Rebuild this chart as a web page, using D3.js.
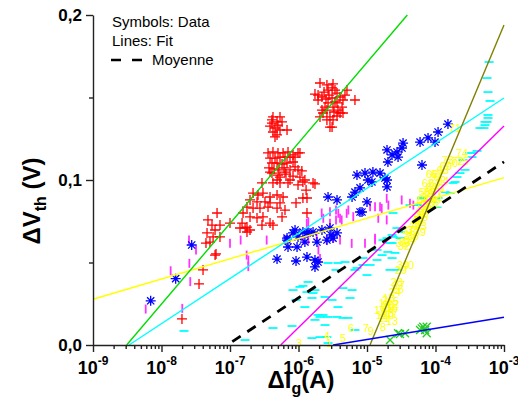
<!DOCTYPE html>
<html><head><meta charset="utf-8">
<script src="https://cdn.jsdelivr.net/npm/d3@7"></script>
<style>body{margin:0;background:#fff}svg{display:block}</style>
</head><body>
<svg id="c" width="518" height="403"></svg>
<script>
// ---------------- DATA ----------------
const xMajorTicks = [1e-9, 1e-8, 1e-7, 1e-6, 1e-5, 1e-4, 1e-3];
const xTickExponents = ["-9", "-8", "-7", "-6", "-5", "-4", "-3"];
const yMajorTicks = [0, 0.1, 0.2];
const yTickLabels = ["0,0", "0,1", "0,2"];
const yMinorTicks = [0.05, 0.15];
const legendLines = ["Symbols: Data", "Lines: Fit", "Moyenne"];

// red "+" series  [ΔIg (A), ΔVth (V)]
const redPts = [
[2.06e-6,0.1588],[2.60e-6,0.1576],[3.19e-6,0.1582],[1.93e-6,0.1515],[1.74e-6,0.1521],[2.20e-6,0.1503],
[2.70e-6,0.1545],[3.09e-6,0.1558],[3.65e-6,0.1527],[4.04e-6,0.1503],[4.46e-6,0.1485],[3.65e-6,0.1467],
[3.19e-6,0.1442],[2.60e-6,0.1424],[2.28e-6,0.1406],[2.88e-6,0.1382],[2.60e-6,0.1364],[3.19e-6,0.1364],
[4.04e-6,0.1406],[4.32e-6,0.1442],[3.77e-6,0.1424],[3.41e-6,0.1473],[3.09e-6,0.1497],[2.70e-6,0.1467],
[2.44e-6,0.1442],[2.20e-6,0.1424],[2.06e-6,0.1382],[3.09e-6,0.1321],[4.46e-6,0.1406],[5.10e-6,0.1545],
[4.77e-6,0.1515],[6.67e-6,0.1485],[2.88e-6,0.1321],[1.93e-6,0.1485],[2.36e-6,0.1533],[3.65e-6,0.1388],
[2.79e-6,0.1515],[3.41e-6,0.1545],[2.52e-6,0.1491],[3.30e-6,0.1412],
[4.24e-7,0.1382],[5.37e-7,0.1382],[4.86e-7,0.1352],[4.10e-7,0.1345],[5.02e-7,0.1333],[4.54e-7,0.1315],
[5.37e-7,0.1303],[4.24e-7,0.1291],[4.86e-7,0.1273],[6.80e-7,0.1303],[4.10e-7,0.1364],[5.75e-7,0.1352],
[4.54e-7,0.1261],[3.84e-7,0.1327],
[3.59e-7,0.1164],[4.24e-7,0.1170],[5.02e-7,0.1164],[5.95e-7,0.1164],[7.03e-7,0.1170],[9.84e-7,0.1164],
[8.90e-7,0.1139],[3.84e-7,0.1133],[4.54e-7,0.1133],[5.37e-7,0.1139],[6.35e-7,0.1139],[7.52e-7,0.1139],
[4.10e-7,0.1103],[4.86e-7,0.1103],[5.75e-7,0.1097],[6.80e-7,0.1103],[8.32e-7,0.1109],[3.71e-7,0.1073],
[4.39e-7,0.1067],[5.19e-7,0.1061],[6.15e-7,0.1073],[7.52e-7,0.1061],[8.90e-7,0.1079],[4.10e-7,0.1042],
[5.02e-7,0.1030],[6.57e-7,0.1036],[8.32e-7,0.1024],[9.84e-7,0.1061],[4.86e-7,0.1000],[7.52e-7,0.1000],
[5.37e-7,0.1018],
[3.84e-7,0.1048],[6.35e-7,0.1048],[2.93e-7,0.0982],[4.24e-7,0.0982],[5.37e-7,0.0982],[7.03e-7,0.0982],
[1.05e-6,0.1018],[1.16e-6,0.0988],[9.84e-7,0.0970],[1.74e-6,0.0976],[1.29e-6,0.0939],[2.17e-7,0.0921],
[2.56e-7,0.0909],[3.03e-7,0.0921],[3.84e-7,0.0897],[4.86e-7,0.0909],[5.95e-7,0.0897],[1.96e-7,0.0879],
[2.48e-7,0.0867],[3.24e-7,0.0867],[3.84e-7,0.0861],[5.37e-7,0.0861],[9.20e-7,0.0861],[1.16e-6,0.0891],
[1.77e-7,0.0836],[2.17e-7,0.0830],[2.74e-7,0.0830],[3.59e-7,0.0836],[4.86e-7,0.0830],[6.35e-7,0.0818],
[1.33e-6,0.0800],[1.55e-7,0.0800],[1.96e-7,0.0776],[2.48e-7,0.0770],[3.03e-7,0.0776],[3.84e-7,0.0739],
[2.93e-7,0.0727],[1.50e-7,0.0739],[1.66e-7,0.0709],[1.96e-7,0.0697],[1.40e-7,0.0709],[1.77e-7,0.0685],
[4.77e-8,0.0758],[6.47e-8,0.0800],[5.46e-8,0.0727],[7.14e-8,0.0727],[6.05e-8,0.0697],[4.62e-8,0.0679],
[5.66e-8,0.0655],[1.00e-7,0.0739],[5.10e-8,0.0624],[6.05e-8,0.0545],[4.04e-8,0.0455],[3.53e-8,0.0370],
[1.99e-8,0.0158],[1.77e-7,0.0715],[7.14e-8,0.0655],[4.46e-8,0.0618],[6.25e-8,0.0552],
[1.24e-6,0.1000],[1.63e-6,0.0982],[1.33e-6,0.0891],[4.24e-7,0.0727],[5.75e-7,0.0776],[1.05e-6,0.1164],
[8.32e-7,0.1152],[1.12e-6,0.1055]
];

// blue asterisk series
const bluePts = [
[6.95e-9,0.0268],[1.61e-8,0.0402],[2.76e-8,0.0606],
[8.90e-7,0.0697],[9.84e-7,0.0655],[1.33e-6,0.0679],[1.63e-6,0.0685],[2.20e-6,0.0697],[2.88e-6,0.0709],
[3.65e-6,0.0679],[6.80e-7,0.0636],[7.03e-7,0.0594],[9.52e-7,0.0594],[1.24e-6,0.0624],[1.86e-6,0.0624],
[2.60e-6,0.0636],[3.19e-6,0.0648],[4.86e-7,0.0521],[9.20e-7,0.0509],[1.33e-6,0.0533],[1.74e-6,0.0515],
[1.74e-6,0.0473],[1.93e-6,0.0503],[8.32e-7,0.0679],[1.38e-6,0.0685],[2.98e-6,0.0667],[1.16e-6,0.0685],
[6.80e-7,0.0648],[2.70e-6,0.0897],[3.65e-6,0.0879],
[7.14e-6,0.1030],[9.35e-6,0.1042],[1.22e-5,0.1048],[1.55e-5,0.1042],[1.83e-5,0.1012],[1.96e-5,0.0958],
[1.03e-5,0.1000],[7.91e-6,0.0952],[6.67e-6,0.0927],[6.05e-6,0.0897],[1.00e-5,0.0867],[7.91e-6,0.0806],
[1.96e-5,0.1182],[2.32e-5,0.1152],[2.74e-5,0.1170],[3.24e-5,0.1194],[3.36e-5,0.1224],[2.02e-5,0.1109],
[2.84e-5,0.1139],[5.95e-5,0.1230],[7.78e-5,0.1255],[9.84e-5,0.1230],[1.09e-4,0.1291],[1.52e-4,0.1339],
[6.35e-5,0.1091],[1.18e-5,0.0988],[1.96e-5,0.1000],[8.45e-6,0.0806]
];

// magenta "|" series
const magentaPts = [
[5.88e-9,0.0218],[1.36e-8,0.0450],[2.01e-8,0.0222],[2.52e-8,0.0636],[2.55e-8,0.0495],[2.63e-8,0.0384],
[3.19e-8,0.0576],[1.00e-7,0.0616],[1.43e-7,0.0636],[1.75e-7,0.0545],[1.85e-7,0.0515],[1.85e-7,0.0475],
[3.43e-7,0.0636],[6.35e-7,0.0636],[1.32e-6,0.0738],[1.84e-6,0.0656],[1.95e-6,0.0576],[2.06e-6,0.0525],
[2.58e-6,0.0636],[3.22e-6,0.0656],[3.53e-6,0.0758],[2.88e-6,0.0808],[3.53e-6,0.0818],[2.30e-6,0.0768],
[4.04e-6,0.0768],[5.05e-6,0.0798],[5.98e-6,0.0616],[2.18e-6,0.0800],[3.22e-6,0.0647],[4.04e-6,0.0636],
[9.35e-6,0.0616],[1.31e-5,0.0636],[1.39e-6,0.0636],[1.17e-6,0.0636],[1.94e-5,0.0889],[3.21e-5,0.0879],
[4.24e-5,0.0859],[1.55e-5,0.0838],[5.34e-6,0.0818],[1.11e-5,0.0838],[3.81e-6,0.0798],[1.39e-6,0.0747],
[2.88e-6,0.0738],[4.27e-6,0.0758],[6.30e-6,0.0778],[1.94e-5,0.0758],[1.31e-5,0.0838],[1.64e-5,0.0828],
[4.75e-5,0.0848],[2.05e-5,0.0848],[1.31e-5,0.0647],[1.46e-5,0.0768]
];

// cyan "−" series
const cyanPts = [
[6.05e-4,0.1715],[5.66e-4,0.1618],[5.84e-4,0.1533],[6.25e-4,0.1479],[5.84e-4,0.1394],[5.84e-4,0.1376],
[5.66e-4,0.1352],[5.28e-4,0.1333],[5.10e-4,0.1315],[4.46e-4,0.1315],[4.04e-4,0.1176],[3.41e-4,0.1164],
[3.41e-4,0.1139],[5.28e-4,0.1352],[3.19e-4,0.1164],[2.52e-4,0.1121],[2.28e-4,0.1042],[2.06e-4,0.1018],
[1.80e-4,0.0982],[1.38e-4,0.0927],[1.09e-4,0.0891],[9.20e-5,0.0867],[4.24e-5,0.0848],[2.40e-5,0.0800],
[2.74e-5,0.0709],[3.03e-5,0.0685],[2.32e-5,0.0667],[1.96e-5,0.0648],[2.32e-5,0.0618],[5.37e-5,0.0848],
[6.35e-5,0.0891],[1.05e-4,0.0836],[2.70e-4,0.1061],[1.93e-4,0.0988],[1.63e-4,0.0921],[2.40e-5,0.0655],
[3.03e-5,0.0648],[2.17e-5,0.0618],[2.02e-5,0.0564],[2.56e-5,0.0558],[2.32e-5,0.0527],[2.17e-5,0.0455],
[2.74e-5,0.0455],[1.71e-5,0.0636],
[2.70e-6,0.0497],[3.77e-6,0.0497],[7.14e-6,0.0467],[8.75e-6,0.0485],[1.00e-5,0.0424],[1.40e-5,0.0515],
[1.66e-5,0.0545],[1.40e-5,0.0576],[1.38e-6,0.0382],[1.05e-6,0.0352],[1.33e-6,0.0321],[1.74e-6,0.0333],
[2.44e-6,0.0291],[4.46e-6,0.0345],[5.66e-6,0.0285],[1.57e-6,0.0285],[8.32e-7,0.0333],[2.06e-6,0.0170],
[2.70e-6,0.0170],[1.74e-6,0.0152],[2.44e-6,0.0121],[3.65e-6,0.0170],[4.46e-6,0.0164],[4.24e-7,0.0103],
[1.57e-6,0.0042],[2.60e-6,0.0048],[2.70e-6,0.0012],[8.75e-6,0.0527],[1.16e-6,0.0358],[1.63e-6,0.0315],
[1.93e-6,0.0182],[2.28e-6,0.0182],[8.04e-7,0.0115],[2.06e-6,0.0048],[1.66e-7,0.0030],[2.13e-8,0.0085],
[3.53e-6,0.0455],[4.77e-6,0.0503],[6.67e-6,0.0455],[1.11e-5,0.0485],[3.09e-6,0.0273],[3.77e-6,0.0230],
[1.24e-6,0.0230],[9.20e-7,0.0273],[5.28e-6,0.0164],[6.67e-6,0.0091],[6.05e-6,0.0333]
];

// yellow series, drawn as point numbers [label, ΔIg, ΔVth]
const yellowPts = [
["1",2.79e-6,0.0012],["3",1.02e-6,0.0012],["4",2.60e-6,0.0055],["5",4.46e-6,0.0042],["6",5.84e-6,0.0103],
["7",9.68e-6,0.0103],["9",1.14e-5,0.0085],["8",1.71e-5,0.0109],["13",2.32e-5,0.0145],["12",1.66e-5,0.0182],
["10",2.02e-5,0.0182],["17",2.32e-5,0.0194],["11",1.77e-5,0.0164],["19",1.55e-5,0.0212],["21",1.96e-5,0.0224],
["16",2.32e-5,0.0224],["20",2.02e-5,0.0242],["22",2.40e-5,0.0248],["14",1.83e-5,0.0255],["15",2.40e-5,0.0267],
["2",1.83e-5,0.0273],["18",2.09e-5,0.0285],["23",2.02e-5,0.0194],["24",2.56e-5,0.0321],["26",2.84e-5,0.0339],
["28",2.74e-5,0.0382],["27",2.93e-5,0.0364],["30",3.36e-5,0.0485],["29",3.14e-5,0.0455],["40",3.97e-5,0.0485],
["31",3.24e-5,0.0618],["33",3.59e-5,0.0624],["32",3.47e-5,0.0600],["34",4.24e-5,0.0636],["35",4.24e-5,0.0667],
["36",4.70e-5,0.0661],["37",3.97e-5,0.0697],["38",4.70e-5,0.0697],["39",5.95e-5,0.0685],["41",5.02e-5,0.0727],
["42",5.55e-5,0.0745],["43",6.15e-5,0.0721],["44",5.55e-5,0.0758],["45",6.35e-5,0.0776],["46",5.95e-5,0.0788],
["47",7.03e-5,0.0800],["48",6.35e-5,0.0818],["49",7.27e-5,0.0830],["50",6.57e-5,0.0861],["52",9.84e-5,0.0861],
["53",8.32e-5,0.0848],["54",8.90e-5,0.0879],["55",7.52e-5,0.0897],["51",1.05e-4,0.0897],["56",6.57e-5,0.0879],
["57",1.05e-4,0.0927],["58",7.03e-5,0.0927],["59",8.32e-5,0.0927],["60",8.90e-5,0.0958],["61",1.16e-4,0.0952],
["62",7.78e-5,0.0982],["63",9.84e-5,0.0982],["64",1.29e-4,0.0994],["65",1.16e-4,0.1018],["66",8.90e-5,0.1036],
["67",1.05e-4,0.1036],["68",1.29e-4,0.1061],["69",1.42e-4,0.1085],["70",1.74e-4,0.1103],["72",2.13e-4,0.1115],
["75",2.52e-4,0.1115],["74",2.44e-4,0.1164],["73",1.52e-4,0.1121],["71",1.93e-4,0.1315]
];

// green "x" series
const greenPts = [
[2.17e-5,0.0030],[3.03e-5,0.0067],[3.59e-5,0.0071],[2.84e-5,0.0071],[5.95e-5,0.0091],[6.63e-5,0.0111],
[7.44e-5,0.0071],[7.05e-5,0.0091],[6.30e-5,0.0101],[7.44e-5,0.0111]
];

// fit lines: endpoints [[ΔIg, ΔVth], [ΔIg, ΔVth]]
const fitGreen   = [[3.1e-9, 0.0], [3.88e-5, 0.2]];
const fitCyan    = [[3.36e-9, 0.0], [1e-3, 0.1497]];
const fitYellow  = [[1e-9, 0.0277], [1e-3, 0.1014]];
const fitMagenta = [[5.5e-7, 0.0], [1e-3, 0.1327]];
const fitOlive   = [[1.106e-5, 0.0], [1e-3, 0.194]];
const fitBlue    = [[3.2e-6, 0.0], [1e-3, 0.0168]];
const moyenne    = [[1.08e-7, 0.002], [1e-3, 0.111]];

// ---------------- DRAWING ----------------
const svg = d3.select("#c");
const L = 93, R = 504, T = 15, B = 345;
const x = d3.scaleLog().domain([1e-9, 1e-3]).range([L, R]);
const y = d3.scaleLinear().domain([0, 0.2]).range([B, T]);
const FONT = "'Liberation Sans', Arial, sans-serif";

const g = svg.append("g");

// markers
const plus = "M-5,0H5M0,-5V5";
const star = "M-5,0H5M0,-5V5M-3.6,-3.6L3.6,3.6M-3.6,3.6L3.6,-3.6";
const cross = "M-4,-4L4,4M-4,4L4,-4";

g.append("g").selectAll("path").data(cyanPts).join("path")
  .attr("transform", d => `translate(${x(d[0])},${y(d[1])})`)
  .attr("d", "M-4.5,0H4.5").attr("stroke", "#00ffff").attr("stroke-width", 1.8).attr("fill", "none");

g.append("g").selectAll("path").data(magentaPts).join("path")
  .attr("transform", d => `translate(${x(d[0])},${y(d[1])})`)
  .attr("d", "M0,-4.5V4.5").attr("stroke", "#ff33ff").attr("stroke-width", 1.8).attr("fill", "none");

g.append("g").selectAll("path").data(redPts).join("path")
  .attr("transform", d => `translate(${x(d[0])},${y(d[1])})`)
  .attr("d", plus).attr("stroke", "#ff0000").attr("stroke-width", 1.3).attr("fill", "none");

g.append("g").selectAll("path").data(bluePts).join("path")
  .attr("transform", d => `translate(${x(d[0])},${y(d[1])})`)
  .attr("d", star).attr("stroke", "#0000ff").attr("stroke-width", 1.3).attr("fill", "none");

g.append("g").selectAll("path").data(greenPts).join("path")
  .attr("transform", d => `translate(${x(d[0])},${y(d[1])})`)
  .attr("d", cross).attr("stroke", "#22cc22").attr("stroke-width", 1.3).attr("fill", "none");

g.append("g").selectAll("text").data(yellowPts).join("text")
  .attr("x", d => x(d[1])).attr("y", d => y(d[2]))
  .attr("dy", "0.35em").attr("text-anchor", "middle")
  .attr("font-family", FONT).attr("font-size", 11).attr("fill", "#ffff00")
  .text(d => d[0]);

// fit lines
const line = d3.line().x(d => x(d[0])).y(d => y(d[1]));
const fits = [
  [fitYellow, "#ffff00"], [fitCyan, "#00ffff"], [fitGreen, "#00dd00"],
  [fitMagenta, "#ff00ff"], [fitOlive, "#808000"], [fitBlue, "#0000ff"]
];
fits.forEach(([pts, col]) => {
  g.append("path").datum(pts).attr("d", line).attr("stroke", col)
    .attr("stroke-width", 1.4).attr("fill", "none");
});
g.append("path").datum(moyenne).attr("d", line).attr("stroke", "#000")
  .attr("stroke-width", 2.8).attr("stroke-dasharray", "10,8").attr("fill", "none");

// axes
const xMinor = [];
for (let e = -9; e < -3; e++) for (let m = 2; m <= 9; m++) xMinor.push(m * Math.pow(10, e));

const axX = svg.append("g").attr("transform", `translate(0,${B})`);
axX.call(d3.axisBottom(x).tickValues(xMajorTicks).tickSize(7).tickSizeOuter(0).tickFormat(""));
axX.append("g").call(d3.axisBottom(x).tickValues(xMinor).tickSize(4).tickSizeOuter(0).tickFormat(""))
  .select(".domain").remove();
axX.selectAll("path,line").attr("stroke", "#222").attr("stroke-width", 1.4);

const axY = svg.append("g").attr("transform", `translate(${L},0)`);
axY.call(d3.axisLeft(y).tickValues(yMajorTicks).tickSize(7).tickSizeOuter(0)
  .tickFormat((d, i) => yTickLabels[i]));
axY.append("g").call(d3.axisLeft(y).tickValues(yMinorTicks).tickSize(4).tickSizeOuter(0).tickFormat(""))
  .select(".domain").remove();
axY.selectAll("path,line").attr("stroke", "#222").attr("stroke-width", 1.4);
axY.selectAll("text").attr("font-family", FONT).attr("font-weight", "bold")
  .attr("font-size", 17).attr("fill", "#000").attr("x", -11);

// x tick labels with superscripts
xMajorTicks.forEach((v, i) => {
  const t = svg.append("text").attr("x", x(v)).attr("y", 374)
    .attr("text-anchor", "middle").attr("font-family", FONT)
    .attr("font-weight", "bold").attr("font-size", 18).attr("fill", "#000");
  t.append("tspan").text("10");
  t.append("tspan").attr("dy", -9).attr("font-size", 12).text(xTickExponents[i]);
});

// axis titles
const xt = svg.append("text").attr("x", 301).attr("y", 388).attr("text-anchor", "middle")
  .attr("font-family", FONT).attr("font-weight", "bold").attr("font-size", 24).attr("fill", "#000");
xt.append("tspan").text("ΔI");
xt.append("tspan").attr("dy", 6).attr("font-size", 16).text("g");
xt.append("tspan").attr("dy", -6).text("(A)");

const yt = svg.append("text").attr("transform", "translate(40,201) rotate(-90)")
  .attr("text-anchor", "middle")
  .attr("font-family", FONT).attr("font-weight", "bold").attr("font-size", 24).attr("fill", "#000");
yt.append("tspan").text("ΔV");
yt.append("tspan").attr("dy", 6).attr("font-size", 16).text("th");
yt.append("tspan").attr("dy", -6).text(" (V)");

// legend
const lg = svg.append("g").attr("font-family", FONT).attr("font-size", 15).attr("fill", "#000");
lg.append("text").attr("x", 112).attr("y", 27).text(legendLines[0]);
lg.append("text").attr("x", 112).attr("y", 46).text(legendLines[1]);
lg.append("line").attr("x1", 111).attr("x2", 143).attr("y1", 60).attr("y2", 60)
  .attr("stroke", "#000").attr("stroke-width", 2.6).attr("stroke-dasharray", "10,11");
lg.append("text").attr("x", 152).attr("y", 65).text(legendLines[2]);
</script>
</body></html>
